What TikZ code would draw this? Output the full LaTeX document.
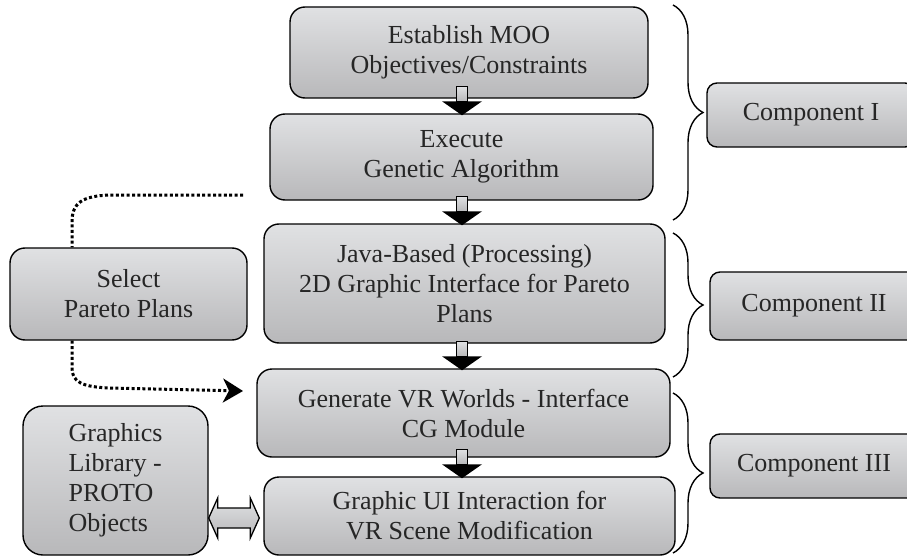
\documentclass[tikz,border=0pt]{standalone}
\usepackage{fontspec}
\setmainfont{Liberation Serif}
\usetikzlibrary{calc,arrows.meta,decorations.pathreplacing}
\definecolor{boxtop}{RGB}{224,225,227}
\definecolor{boxbot}{RGB}{184,184,186}
\definecolor{txt}{RGB}{38,38,38}
% #1 = point on upper box bottom, #2 = point on lower box top
\newcommand{\blkdown}[2]{%
  \draw[line width=1.2pt, top color=boxtop, bottom color=boxbot]
    let \p1=(#1), \p2=(#2) in (\x2-5.5pt,\y2+27pt) rectangle (\x2+5.5pt,\y2+12pt);
  \fill[black] let \p1=(#1), \p2=(#2) in
    (\x2-20pt,\y2+12pt) -- (\x2+20pt,\y2+12pt) -- (\x2,\y2-2pt) -- cycle;
}
\begin{document}
\begin{tikzpicture}[x=1pt,y=-1pt,
  box/.style={draw=black, line width=1.4pt, rounded corners=15pt,
    top color=boxtop, bottom color=boxbot, align=center,
    font=\fontsize{26}{30}\selectfont, text=txt, inner sep=0pt},
  dotline/.style={line width=3pt, dash pattern=on 3pt off 2.4pt},
  bracestyle/.style={line width=1.4pt, decorate, decoration={brace, amplitude=30pt}},
  dblarrow/.style={draw=black, line width=1.3pt, top color=boxtop, bottom color=boxbot}
]
\useasboundingbox (0,0) rectangle (907,559);
\clip (0,0) rectangle (907,559);

% main column
\node[box, minimum width=358pt, minimum height=91pt] (b1) at (469,52.5)
  {Establish MOO\\Objectives/Constraints};
\node[box, minimum width=383pt, minimum height=86pt] (b2) at (461.5,157)
  {Execute\\Genetic Algorithm};
\node[box, minimum width=401pt, minimum height=119pt] (b3) at (464.5,283.5)
  {Java-Based (Processing)\\2D Graphic Interface for Pareto\\Plans};
\node[box, minimum width=413pt, minimum height=88pt] (b4) at (463.5,413)
  {Generate VR Worlds - Interface\\CG Module};
\node[box, minimum width=411pt, minimum height=78pt] (b5) at (469.5,516)
  {Graphic UI Interaction for\\VR Scene Modification};

% left side
\node[box, minimum width=237pt, minimum height=92pt] (sel) at (128.5,294)
  {Select\\Pareto Plans};
\node[box, rounded corners=20pt, minimum width=185pt, minimum height=149pt, align=left] (gl) at (115.5,480.5)
  {Graphics\\Library -\\PROTO\\Objects};

% components
\node[box, rounded corners=10pt, minimum width=208pt, minimum height=64pt] (c1) at (811,115) {Component I};
\node[box, rounded corners=10pt, minimum width=208pt, minimum height=68pt] (c2) at (814,306) {Component II};
\node[box, rounded corners=10pt, minimum width=208pt, minimum height=64pt] (c3) at (814,466) {Component III};

% block arrows
\coordinate (ax) at (462,0);
\blkdown{b1.south -| ax}{b2.north -| ax}
\blkdown{b2.south -| ax}{b3.north -| ax}
\blkdown{b3.south -| ax}{b4.north -| ax}
\blkdown{b4.south -| ax}{b5.north -| ax}

% double arrow
\coordinate (dy) at (0,518);
\draw[dblarrow] let \p1=(gl.east |- dy), \p2=($(b5.west |- dy)+(-4,0)$) in
  (\x1,\y1) -- (\x1+9pt,\y1+20pt) -- (\x1+9pt,\y1+10pt) -- (\x2-9pt,\y1+10pt)
  -- (\x2-9pt,\y1+20pt) -- (\x2,\y1) -- (\x2-9pt,\y1-20pt) -- (\x2-9pt,\y1-10pt)
  -- (\x1+9pt,\y1-10pt) -- (\x1+9pt,\y1-20pt) -- cycle;

% dotted feedback
\coordinate (dstart) at (243,195);
\coordinate (dx) at (72,0);
\coordinate (dend) at (243,391);
\draw[dotline] (dstart) -- (110,195) .. controls (82,196) and (72,203) .. (72,222) -- (sel.north -| dx);
\draw[dotline, -{Stealth[length=20pt, width=24pt, inset=6pt]}]
  (sel.south -| dx) -- (72,368) .. controls (72,382) and (82,387) .. (110,388) -- (dend);

% braces
\draw[bracestyle] (673,5) -- (673,220);
\draw[bracestyle] (673,233) -- (673,377);
\draw[bracestyle] (673,393) -- (673,553);
\end{tikzpicture}
\end{document}
